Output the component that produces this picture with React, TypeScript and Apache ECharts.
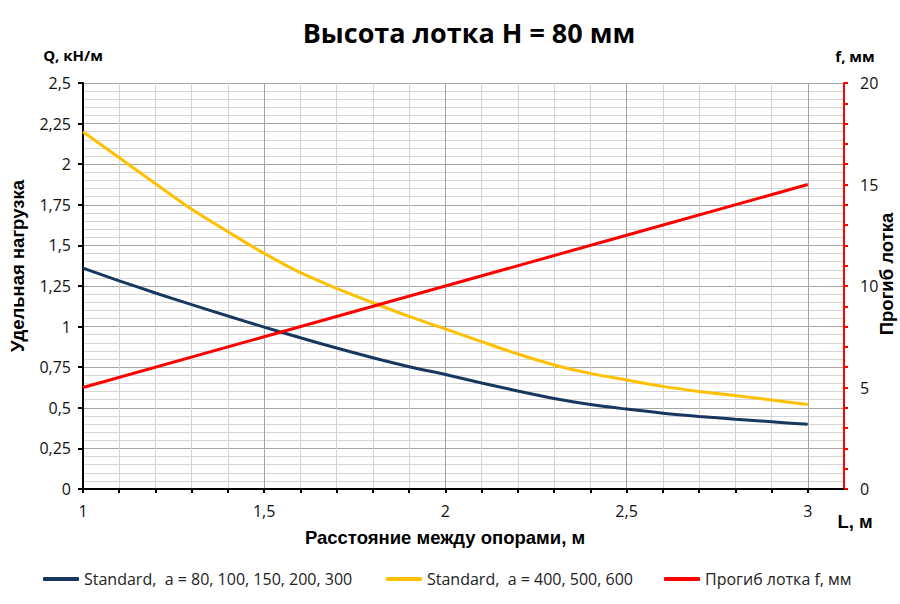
import React, { useEffect, useRef } from "react";
import * as echarts from "echarts";

const L = [1.0, 1.1, 1.2, 1.3, 1.4, 1.5, 1.6, 1.7, 1.8, 1.9, 2.0, 2.1, 2.2, 2.3, 2.4, 2.5, 2.6, 2.7, 2.8, 2.9, 3.0];
const qA = [1.36, 1.282, 1.207, 1.135, 1.065, 0.997, 0.931, 0.868, 0.808, 0.753, 0.705, 0.653, 0.603, 0.557, 0.52, 0.492, 0.467, 0.447, 0.43, 0.414, 0.398];
const qB = [2.2, 2.04, 1.88, 1.722, 1.584, 1.451, 1.332, 1.236, 1.147, 1.063, 0.985, 0.907, 0.831, 0.764, 0.712, 0.671, 0.632, 0.601, 0.575, 0.548, 0.521];
const fL = [1.0, 1.5, 2.0, 2.5, 3.0];
const fVals = [5, 7.5, 10, 12.5, 15];

const nameA = "Standard,  a = 80, 100, 150, 200, 300";
const nameB = "Standard,  a = 400, 500, 600";
const nameF = "Прогиб лотка f, мм";
const title = "Высота лотка H = 80 мм";

const NUM_FONT = "'Open Sans', 'Noto Sans', sans-serif";
const BOLD_FONT = "'Liberation Sans', Arial, sans-serif";

export default function App() {
  const ref = useRef<HTMLDivElement>(null);
  useEffect(() => {
    if (!ref.current) return;
    const chart = echarts.init(ref.current, undefined, { renderer: "svg" });
    const pairs = (xs: number[], ys: number[]) => xs.map((x, i) => [x, ys[i]]);
    const legendBase = {
      top: 566,
      itemWidth: 36,
      itemHeight: 4,
      icon: "roundRect",
      textStyle: { fontFamily: NUM_FONT, fontSize: 16, color: "#222" },
    };
    chart.setOption({
      animation: false,
      backgroundColor: "#fff",
      grid: { left: 83, right: 56, top: 83, bottom: 115 },
      xAxis: {
        type: "value",
        min: 1,
        max: 3.1,
        interval: 0.1,
        axisLine: { show: true, onZero: false, lineStyle: { color: "#000", width: 2 } },
        axisTick: { show: true, length: 4, lineStyle: { color: "#000", width: 2 } },
        axisLabel: {
          margin: 14,
          fontFamily: NUM_FONT,
          fontSize: 16,
          color: "#111",
          showMaxLabel: false,
          formatter: (v: number) => {
            const r = Math.round(v * 10) / 10;
            if (Math.abs(r * 2 - Math.round(r * 2)) < 1e-6 && r <= 3.0001) return String(r).replace(".", ",");
            return "";
          },
        },
        splitLine: {
          show: true,
          lineStyle: { color: ["#a6a6a6", "#d4d4d4", "#d4d4d4", "#d4d4d4", "#d4d4d4"], width: 1 },
        },
      },
      yAxis: [
        {
          type: "value",
          min: 0,
          max: 2.5,
          interval: 0.25,
          axisLine: { show: true, lineStyle: { color: "#000", width: 2 } },
          axisTick: { show: true, length: 5, lineStyle: { color: "#000", width: 2 } },
          axisLabel: {
            margin: 12,
            fontFamily: NUM_FONT,
            fontSize: 16,
            color: "#111",
            formatter: (v: number) => String(Math.round(v * 100) / 100).replace(".", ","),
          },
          splitLine: { show: true, lineStyle: { color: "#a6a6a6", width: 1 } },
          minorTick: { show: false, splitNumber: 5 },
          minorSplitLine: { show: true, lineStyle: { color: "#d4d4d4", width: 1 } },
        },
        {
          type: "value",
          min: 0,
          max: 20,
          interval: 1,
          position: "right",
          axisLine: { show: true, lineStyle: { color: "#ff0000", width: 2 } },
          axisTick: { show: true, length: 4, lineStyle: { color: "#ff0000", width: 2 } },
          axisLabel: {
            margin: 16,
            fontFamily: NUM_FONT,
            fontSize: 16,
            color: "#111",
            formatter: (v: number) => (Math.round(v) % 5 === 0 ? String(Math.round(v)) : ""),
          },
          splitLine: { show: false },
        },
      ],
      legend: [
        { ...legendBase, left: 38, data: [nameA] },
        { ...legendBase, left: 381, data: [nameB] },
        { ...legendBase, left: 659, data: [nameF] },
      ],
      series: [
        {
          name: nameA,
          type: "line",
          data: pairs(L, qA),
          smooth: 0.3,
          showSymbol: false,
          symbol: "none",
          lineStyle: { color: "#17375E", width: 3 },
          itemStyle: { color: "#17375E" },
          z: 3,
        },
        {
          name: nameB,
          type: "line",
          data: pairs(L, qB),
          smooth: 0.3,
          showSymbol: false,
          symbol: "none",
          lineStyle: { color: "#FFC000", width: 3 },
          itemStyle: { color: "#FFC000" },
          z: 2,
        },
        {
          name: nameF,
          type: "line",
          yAxisIndex: 1,
          data: pairs(fL, fVals),
          showSymbol: false,
          symbol: "none",
          lineStyle: { color: "#FF0000", width: 3 },
          itemStyle: { color: "#FF0000" },
          z: 4,
        },
      ],
      graphic: [
        {
          type: "text",
          x: 469,
          y: 32,
          style: {
            text: title,
            fontFamily: NUM_FONT,
            fontWeight: "bold",
            fontSize: 27,
            fill: "#000",
            align: "center",
            verticalAlign: "middle",
          },
        },
        {
          type: "text",
          x: 73,
          y: 55,
          style: {
            text: "Q, кН/м",
            fontFamily: NUM_FONT,
            fontWeight: "bold",
            fontSize: 15,
            fill: "#000",
            align: "center",
            verticalAlign: "middle",
          },
        },
        {
          type: "text",
          x: 855,
          y: 56,
          style: {
            text: "f, мм",
            fontFamily: NUM_FONT,
            fontWeight: "bold",
            fontSize: 15,
            fill: "#000",
            align: "center",
            verticalAlign: "middle",
          },
        },
        {
          type: "text",
          x: 17,
          y: 266,
          rotation: Math.PI / 2,
          style: {
            text: "Удельная нагрузка",
            fontFamily: BOLD_FONT,
            fontWeight: "bold",
            fontSize: 18.5,
            fill: "#000",
            align: "center",
            verticalAlign: "middle",
          },
        },
        {
          type: "text",
          x: 886,
          y: 274,
          rotation: Math.PI / 2,
          style: {
            text: "Прогиб лотка",
            fontFamily: BOLD_FONT,
            fontWeight: "bold",
            fontSize: 18.5,
            fill: "#000",
            align: "center",
            verticalAlign: "middle",
          },
        },
        {
          type: "text",
          x: 445,
          y: 537,
          style: {
            text: "Расстояние между опорами, м",
            fontFamily: BOLD_FONT,
            fontWeight: "bold",
            fontSize: 18.5,
            fill: "#000",
            align: "center",
            verticalAlign: "middle",
          },
        },
        {
          type: "text",
          x: 855,
          y: 521,
          style: {
            text: "L, м",
            fontFamily: BOLD_FONT,
            fontWeight: "bold",
            fontSize: 18.5,
            fill: "#000",
            align: "center",
            verticalAlign: "middle",
          },
        },
      ],
    });
    return () => chart.dispose();
  }, []);
  return <div ref={ref} style={{ position: "fixed", left: 0, top: 0, width: 900, height: 604 }} />;
}
